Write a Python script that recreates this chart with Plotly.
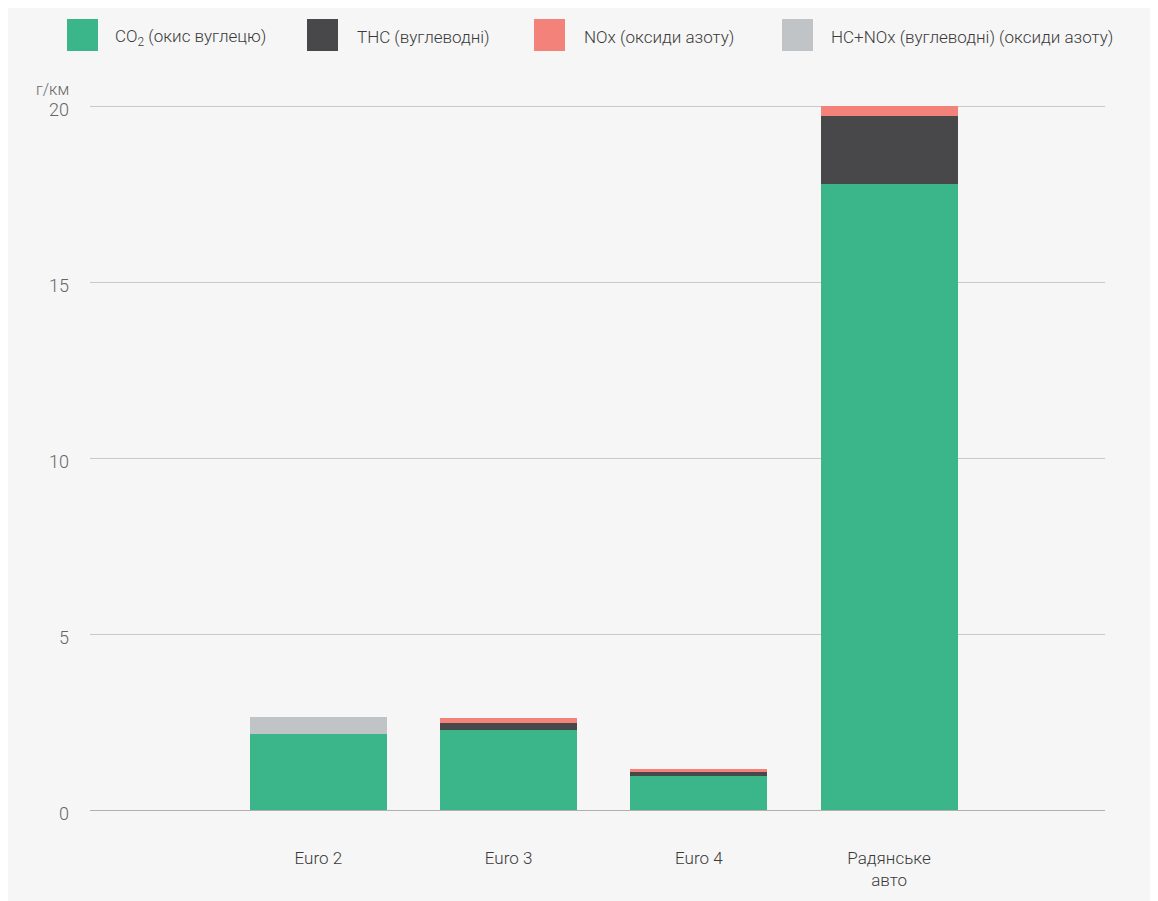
import plotly.graph_objects as go

categories = ["Euro 2", "Euro 3", "Euro 4", "Радянське<br>авто"]
co2 = [2.15, 2.27, 0.97, 17.78]
thc = [0, 0.2, 0.1, 1.95]
nox = [0, 0.15, 0.09, 0.28]
hc_nox = [0.5, 0, 0, 0]

series_names = ["CO<sub>2</sub> (окис вуглецю)", "THC (вуглеводні)", "NOx (оксиди азоту)",
                "HC+NOx (вуглеводні) (оксиди азоту)"]
series_colors = ["#3bb58a", "#48484a", "#f2827a", "#c1c4c6"]
y_ticks = [0, 5, 10, 15, 20]
y_unit = "г/км"

W, H = 1158, 901
OFF = 8  # page body margin
L, R, T, B = 82, 61, 91, 99
BG = "#f6f6f6"
FONT = "Roboto"

fig = go.Figure()
for vals, name, col in zip([co2, thc, nox, hc_nox], series_names, series_colors):
    fig.add_trace(go.Bar(x=list(range(len(categories))), y=vals, name=name,
                         marker=dict(color=col, line=dict(width=0)),
                         width=0.72, showlegend=False))

pw = W - L - R
ph = H - T - B
def px(x):
    return (x - OFF - L) / pw
def py(y):
    return 1 - (y - OFF - T) / ph

legend_sq_x = [67, 307, 534, 782]
legend_txt_x = [113, 355, 582, 829]
for i, (name, col) in enumerate(zip(series_names, series_colors)):
    fig.add_shape(type="rect", xref="paper", yref="paper",
                  x0=px(legend_sq_x[i]), x1=px(legend_sq_x[i] + 31),
                  y0=py(51), y1=py(19), fillcolor=col, line=dict(width=0))
    fig.add_annotation(xref="paper", yref="paper", x=px(legend_txt_x[i]), y=py(37),
                       text=name, showarrow=False, xanchor="left", yanchor="middle",
                       font=dict(size=17, color="#3a3a3a", family=FONT, weight=300))

fig.add_annotation(xref="paper", yref="paper", x=px(71), y=py(89), text=y_unit,
                   showarrow=False, xanchor="right", yanchor="middle",
                   font=dict(size=16, color="#666666", family=FONT, weight=300))

fig.update_layout(
    width=W, height=H, barmode="stack",
    margin=dict(l=L, r=R, t=T, b=B),
    paper_bgcolor=BG, plot_bgcolor=BG,
    font=dict(family=FONT, color="#555555", size=17, weight=300),
    xaxis=dict(tickmode="array", tickvals=list(range(len(categories))), ticktext=categories,
               range=[-1.2, 4.135], showgrid=False, zeroline=False, showline=False,
               ticks="", ticklabelstandoff=36,
               tickfont=dict(size=17, color="#3a3a3a", family=FONT, weight=300)),
    yaxis=dict(range=[0, 20.2], tickvals=y_ticks, showgrid=True, gridcolor="#c9c9c9",
               gridwidth=1, zeroline=True, zerolinecolor="#b0b0b0", zerolinewidth=1,
               showline=False, ticks="", ticklabelstandoff=20, ticklabelshift=4,
               tickfont=dict(size=18, color="#666666", family=FONT, weight=300)),
)

fig.write_html("out.html")
